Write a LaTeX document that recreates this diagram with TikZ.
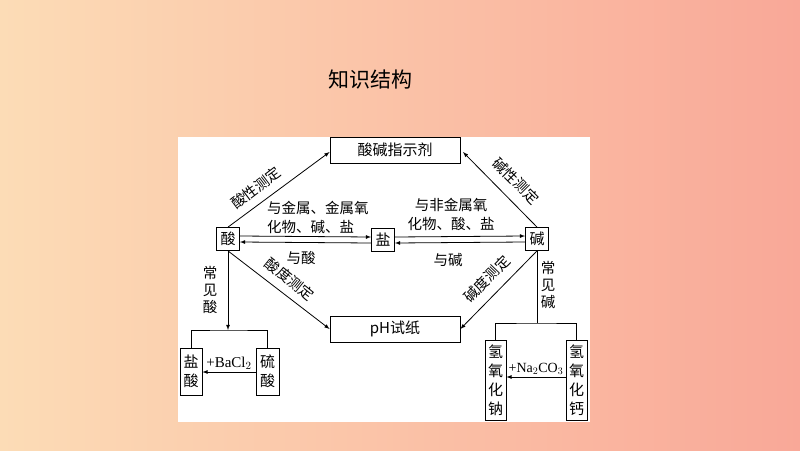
\documentclass[tikz,border=0pt]{standalone}
\usepackage{fontspec}
\setmainfont{Liberation Serif}
\newfontfamily\cjk{Noto Sans CJK SC}
\usepackage{tikz}
\usetikzlibrary{arrows}

\definecolor{bgleft}{RGB}{252,220,182}
\definecolor{bgright}{RGB}{249,168,152}

\begin{document}
\begin{tikzpicture}[x=1pt,y=-1pt,
  box/.style={draw,line width=0.8pt,fill=white,inner sep=0pt,font=\cjk\fontsize{15}{15}\selectfont},
  vbox/.style={box,align=center,font=\cjk\fontsize{15}{19}\selectfont},
  lbl/.style={font=\cjk\fontsize{14.5}{19}\selectfont,inner sep=1pt},
  link/.style={line width=0.8pt,-latex},
  wire/.style={line width=0.8pt}]
\useasboundingbox (0,0) rectangle (800,450);
\shade[left color=bgleft,right color=bgright] (0,0) rectangle (800,450);
\fill[white] (178,137) rectangle (590,422);
\node[font=\cjk\fontsize{21}{21}\selectfont] (title) at (370,80) {知识结构};
% top and bottom boxes
\node[box,minimum width=130,minimum height=26] (ind) at (395,150) {酸碱指示剂};
\node[box,minimum width=130,minimum height=26] (ph) at (395,329) {pH{\cjk 试纸}};
% acid, salt, base
\node[box,minimum size=23] (acid) at (228,239) {酸};
\node[box,minimum size=23] (salt) at (383,240) {盐};
\node[box,minimum size=23] (base) at (537,239) {碱};
% indicator links
\draw[link] (acid.north) -- (ind.west|-0,152);
\draw[link] (base.north) -- (463,152);
\draw[link] (acid.south) -- (ph.west);
\draw[link] (base.south) -- (ph.east);
\node[lbl,rotate=37] (tacid) at (256,188) {酸性测定};
\node[lbl,rotate=-45] (tbase) at (516,181) {碱性测定};
\node[lbl,rotate=-39] (tacd) at (290,279) {酸度测定};
\node[lbl,rotate=46] (tbsd) at (487,279) {碱度测定};
% reactions
\draw[link] ([yshift=3pt]acid.east) -- ([yshift=3pt]salt.west);
\draw[link] ([yshift=-3pt]salt.west) -- ([yshift=-3pt]acid.east);
\draw[link] ([yshift=3pt]salt.east) -- ([yshift=3pt]base.west);
\draw[link] ([yshift=-3pt]base.west) -- ([yshift=-3pt]salt.east);
\node[lbl,anchor=west,align=left] (txa) at (266,217) {与金属、金属氧\\化物、碱、盐};
\node[lbl] (txb) at (301,258) {与酸};
\node[lbl,align=center] (txc) at (451,214) {与非金属氧\\化物、酸、盐};
\node[lbl] (txd) at (448,260) {与碱};
% common acids
\node[vbox,minimum width=22,minimum height=47] (hcl) at (191,371.5) {盐\\酸};
\node[vbox,minimum width=23,minimum height=47] (hso) at (267.5,371.5) {硫\\酸};
\coordinate (ab) at (228,330);
\draw[link] (acid.south) -- (ab);
\node[lbl,align=center,font=\cjk\fontsize{14.5}{17}\selectfont] (tca) at (210,290) {常\\见\\酸};
\draw[wire] (hcl.north) |- (ab) -| (hso.north);
\draw[link] (hso.west|-0,372) -- node[above,font=\fontsize{15}{15}\selectfont,inner sep=2pt]{+BaCl$_2$} (hcl.east|-0,372);
% common bases
\node[vbox,minimum width=21,minimum height=80] (naoh) at (495.5,380) {氢\\氧\\化\\钠};
\node[vbox,minimum width=21,minimum height=80] (caoh) at (576.5,380) {氢\\氧\\化\\钙};
\coordinate (bb) at (537,323);
\draw[wire] (base.south) -- (bb);
\node[lbl,align=center,font=\cjk\fontsize{14.5}{17}\selectfont] (tcb) at (548,285) {常\\见\\碱};
\draw[wire] (naoh.north) |- (bb) -| (caoh.north);
\draw[link] (caoh.west|-0,377) -- node[above,font=\fontsize{14}{14}\selectfont,inner sep=2pt]{+Na$_2$CO$_3$} (naoh.east|-0,377);
\end{tikzpicture}
\end{document}
